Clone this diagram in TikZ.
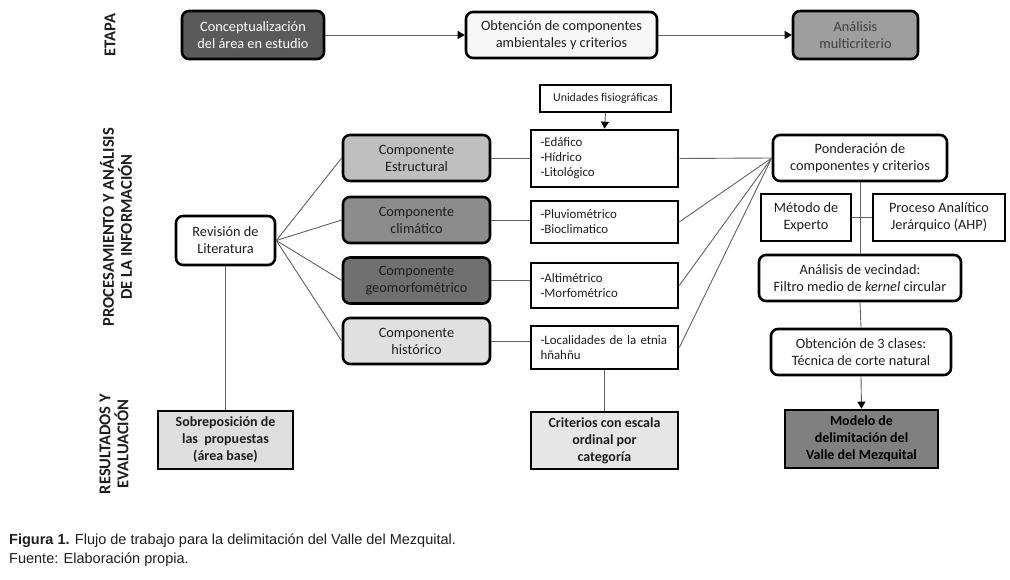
\documentclass[tikz,border=0pt]{standalone}
\usepackage{fontspec}
\setmainfont{Carlito}
\newfontfamily\capfont{Liberation Sans}
\usetikzlibrary{arrows.meta}
\definecolor{cConcept}{HTML}{5A5A5A}
\definecolor{cObten}{HTML}{F7F7F7}
\definecolor{cAnal}{HTML}{9E9E9E}
\definecolor{cEstr}{HTML}{BFBFBF}
\definecolor{cClim}{HTML}{8C8C8C}
\definecolor{cGeo}{HTML}{707070}
\definecolor{cHist}{HTML}{E0E0E0}
\definecolor{cSobre}{HTML}{DEDEDE}
\definecolor{cCrit}{HTML}{E6E6E6}
\definecolor{cModelo}{HTML}{808080}
\definecolor{cText}{HTML}{1E1E1E}
\begin{document}
\begin{tikzpicture}[x=1pt,y=-1pt,
  box/.style={draw=black, line width=2.6pt, rounded corners=7pt, align=center, inner sep=2pt,
              text=cText, font=\fontsize{14.3}{17}\selectfont},
  sq/.style={box, rounded corners=0pt},
  crit/.style={sq, minimum width=147pt, text width=128pt, align=left, font=\fontsize{12.9}{15}\selectfont},
  comp/.style={box, minimum width=147pt, minimum height=46pt},
  res/.style={sq, font=\bfseries\fontsize{14}{17}\selectfont},
  lab/.style={rotate=90, align=center, text=cText, font=\bfseries\fontsize{16.5}{18}\selectfont},
  conn/.style={draw=black!62, line width=0.9pt},
  arr/.style={conn, -{Triangle[length=7pt,width=8pt,color=black]}},
]
\useasboundingbox[fill=white] (0,0) rectangle (1010,580);

% stage labels
\node[lab] (etapa) at (110,35) {ETAPA};
\node[lab] (proc) at (116,227) {PROCESAMIENTO Y ANÁLISIS\\DE LA INFORMACIÓN};
\node[lab] (resl) at (114,444) {RESULTADOS Y\\EVALUACIÓN};

% top row
\node[box, fill=cConcept, text=white, minimum width=142pt, minimum height=48pt] (concept) at (253,35) {Conceptualización\\del área en estudio};
\node[box, fill=cObten, minimum width=191pt, minimum height=46pt] (obten) at (561.5,35) {Obtención de componentes\\ambientales y criterios};
\node[box, fill=cAnal, text=black!75, minimum width=125pt, minimum height=48pt] (anal) at (855.5,35) {Análisis\\multicriterio};

% left part
\node[box, fill=white, minimum width=99pt, minimum height=49pt] (rev) at (225.5,240.5) {Revisión de\\Literatura};
\node[comp, fill=cEstr] (estr) at (416.5,158) {Componente\\Estructural};
\node[comp, fill=cClim] (clim) at (416.5,220) {Componente\\climático};
\node[comp, fill=cGeo] (geo) at (416.5,280.5) {Componente\\geomorfométrico};
\node[comp, fill=cHist] (hist) at (416.5,341) {Componente\\histórico};

% criteria
\node[sq, line width=2.4pt, minimum width=131pt, minimum height=27pt, font=\fontsize{11.9}{13}\selectfont] (unid) at (605.5,98.5) {Unidades fisiográficas};
\node[crit, minimum height=57pt] (edaf) at (604.5,158.5) {-Edáfico\\-Hídrico\\-Litológico};
\node[crit, minimum height=42pt] (pluv) at (604.5,222) {-Pluviométrico\\-Bioclimatico};
\node[crit, minimum height=45pt] (alti) at (604.5,285.5) {-Altimétrico\\-Morfométrico};
\node[crit, minimum height=43pt] (loc) at (604.5,347.5) {-Localidades de la etnia\\hñahñu};

% right part
\node[box, fill=white, minimum width=174pt, minimum height=46pt] (pond) at (860,158) {Ponderación de\\componentes y criterios};
\node[sq, fill=white, minimum width=90pt, minimum height=47pt] (met) at (806,217.5) {Método de\\Experto};
\node[sq, fill=white, minimum width=132pt, minimum height=47pt] (ahp) at (939,217.5) {Proceso Analítico\\Jerárquico (AHP)};
\node[box, fill=white, minimum width=202pt, minimum height=46pt] (vec) at (860,278) {Análisis de vecindad:\\Filtro medio de \textit{kernel} circular};
\node[box, fill=white, minimum width=180pt, minimum height=46pt] (clases) at (861,352) {Obtención de 3 clases:\\Técnica de corte natural};

% results
\node[res, fill=cSobre, minimum width=135pt, minimum height=58pt] (sobre) at (225.5,440) {Sobreposición de\\las~ propuestas\\(área base)};
\node[res, fill=cCrit, minimum width=147pt, minimum height=57pt] (critr) at (604.5,440.5) {Criterios con escala\\ordinal por\\categoría};
\node[res, fill=cModelo, text=black, minimum width=153pt, minimum height=58pt] (modelo) at (861.5,439) {Modelo de\\delimitación del\\Valle del Mezquital};

% caption
\node[anchor=west, inner sep=0pt, text=black!88, font=\capfont\fontsize{14.5}{17}\selectfont] (cap1) at (9,541) {\textbf{Figura 1.} Flujo de trabajo para la delimitación del Valle del Mezquital.};
\node[anchor=west, inner sep=0pt, text=black!88, font=\capfont\fontsize{14.5}{17}\selectfont] (cap2) at (9,560) {Fuente: Elaboración propia.};

% connectors
\draw[arr] (concept.east) -- (obten.west);
\draw[arr] (obten.east) -- (anal.west);
\foreach \c in {estr,clim,geo,hist} \draw[conn] (rev.east) -- (\c.west);
\draw[conn] (estr.east) -- (estr.east -| edaf.west);
\draw[conn] (clim.east) -- (clim.east -| pluv.west);
\draw[conn] (geo.east) -- (geo.east -| alti.west);
\draw[conn] (hist.east) -- (hist.east -| loc.west);
\foreach \c in {edaf,pluv,alti,loc} \draw[conn] (\c.east) -- (pond.west);
\draw[arr] (unid.south) -- (edaf.north);
\draw[conn] (rev.south) -- (sobre.north);
\draw[conn] (loc.south) -- (critr.north);
\draw[conn] (pond.south) -- (vec.north);
\draw[conn] (met.east) -- (ahp.west);
\draw[conn] (vec.south) -- (clases.north);
\draw[arr] (clases.south) -- (modelo.north);
\end{tikzpicture}
\end{document}
